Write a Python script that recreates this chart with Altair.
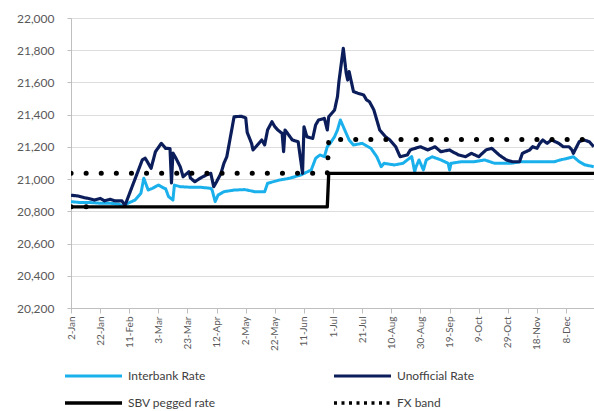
import altair as alt
import pandas as pd

# Vietnam dong per US dollar, 2013
SERIES = ["Interbank Rate", "Unofficial Rate", "SBV pegged rate", "FX band"]
COLORS = ["#1AB0EC", "#0B1E5B", "#000000", "#000000"]
DASHES = [[1, 0], [1, 0], [1, 0], [3, 4.5]]
WIDTHS = [3, 3.5, 2.5, 4]

interbank_dates = [
    "2013-01-02", "2013-01-08", "2013-01-15", "2013-01-22", "2013-01-29", "2013-02-04",
    "2013-02-07", "2013-02-10", "2013-02-15", "2013-02-19", "2013-02-21", "2013-02-24",
    "2013-02-27", "2013-03-03", "2013-03-07", "2013-03-08", "2013-03-10", "2013-03-13",
    "2013-03-14", "2013-03-18", "2013-03-24", "2013-03-31", "2013-04-08", "2013-04-09",
    "2013-04-11", "2013-04-13", "2013-04-17", "2013-04-24", "2013-05-01", "2013-05-03",
    "2013-05-08", "2013-05-15", "2013-05-17", "2013-05-25", "2013-06-01", "2013-06-09",
    "2013-06-16", "2013-06-19", "2013-06-22", "2013-06-25", "2013-06-27", "2013-06-29",
    "2013-07-02", "2013-07-04", "2013-07-06", "2013-07-10", "2013-07-12", "2013-07-15",
    "2013-07-21", "2013-07-27", "2013-07-31", "2013-08-03", "2013-08-05", "2013-08-12",
    "2013-08-18", "2013-08-21", "2013-08-24", "2013-08-26", "2013-08-27", "2013-08-29",
    "2013-09-01", "2013-09-03", "2013-09-07", "2013-09-13", "2013-09-18", "2013-09-19",
    "2013-09-20", "2013-09-27", "2013-10-06", "2013-10-13", "2013-10-20", "2013-10-31",
    "2013-11-07", "2013-11-21", "2013-11-30", "2013-12-04", "2013-12-09", "2013-12-13",
    "2013-12-17", "2013-12-21", "2013-12-27",
]
interbank_values = [
    20860, 20855, 20855, 20850, 20850, 20844,
    20829, 20850, 20870, 20912, 21005, 20932,
    20943, 20963, 20943, 20940, 20891, 20870,
    20963, 20953, 20950, 20950, 20943, 20930,
    20860, 20901, 20922, 20932, 20935, 20932,
    20922, 20922, 20974, 20994, 21005, 21026,
    21057, 21129, 21150, 21139, 21201, 21222,
    21263, 21305, 21367, 21284, 21243, 21212,
    21222, 21191, 21139, 21077, 21098, 21088,
    21098, 21119, 21140, 21046, 21077, 21119,
    21057, 21119, 21139, 21119, 21098, 21057,
    21098, 21108, 21108, 21119, 21098, 21098,
    21108, 21108, 21108, 21119, 21129, 21139,
    21108, 21088, 21077,
]

unofficial_dates = [
    "2013-01-02", "2013-01-07", "2013-01-11", "2013-01-14", "2013-01-18", "2013-01-22",
    "2013-01-25", "2013-01-29", "2013-02-01", "2013-02-06", "2013-02-08", "2013-02-20",
    "2013-02-22", "2013-02-26", "2013-03-01", "2013-03-05", "2013-03-08", "2013-03-11",
    "2013-03-12", "2013-03-13", "2013-03-15", "2013-03-18", "2013-03-20", "2013-03-24",
    "2013-03-25", "2013-03-28", "2013-04-01", "2013-04-05", "2013-04-08", "2013-04-10",
    "2013-04-12", "2013-04-15", "2013-04-17", "2013-04-19", "2013-04-24", "2013-04-29",
    "2013-05-02", "2013-05-03", "2013-05-06", "2013-05-07", "2013-05-09", "2013-05-13",
    "2013-05-15", "2013-05-17", "2013-05-20", "2013-05-22", "2013-05-24", "2013-05-27",
    "2013-05-28", "2013-05-29", "2013-06-03", "2013-06-07", "2013-06-10", "2013-06-11",
    "2013-06-13", "2013-06-17", "2013-06-19", "2013-06-21", "2013-06-25", "2013-06-27",
    "2013-06-28", "2013-07-02", "2013-07-04", "2013-07-05", "2013-07-08", "2013-07-10",
    "2013-07-11", "2013-07-12", "2013-07-15", "2013-07-18", "2013-07-22", "2013-07-24",
    "2013-07-26", "2013-07-29", "2013-07-31", "2013-08-02", "2013-08-06", "2013-08-09",
    "2013-08-13", "2013-08-16", "2013-08-21", "2013-08-23", "2013-08-26", "2013-08-30",
    "2013-09-04", "2013-09-09", "2013-09-13", "2013-09-19", "2013-09-25", "2013-09-30",
    "2013-10-04", "2013-10-09", "2013-10-14", "2013-10-18", "2013-10-23", "2013-10-28",
    "2013-11-01", "2013-11-06", "2013-11-08", "2013-11-13", "2013-11-15", "2013-11-18",
    "2013-11-20", "2013-11-22", "2013-11-25", "2013-11-28", "2013-12-03", "2013-12-06",
    "2013-12-10", "2013-12-12", "2013-12-13", "2013-12-17", "2013-12-20", "2013-12-24",
    "2013-12-27",
]
unofficial_values = [
    20900, 20895, 20885, 20880, 20870, 20880,
    20865, 20875, 20865, 20865, 20835, 21120,
    21130, 21067, 21170, 21222, 21191, 21190,
    20976, 21162, 21131, 21077, 21015, 21046,
    21007, 20984, 21007, 21026, 21036, 20953,
    20984, 21036, 21098, 21139, 21387, 21390,
    21380, 21290, 21222, 21181, 21201, 21243,
    21212, 21305, 21356, 21325, 21305, 21284,
    21170, 21305, 21243, 21232, 21036, 21325,
    21263, 21253, 21336, 21367, 21377, 21305,
    21387, 21429, 21512, 21605, 21812, 21657,
    21615, 21667, 21543, 21533, 21522, 21491,
    21480, 21429, 21367, 21305, 21263, 21243,
    21201, 21139, 21150, 21181, 21190, 21201,
    21181, 21201, 21170, 21181, 21150, 21139,
    21160, 21139, 21181, 21191, 21150, 21119,
    21108, 21108, 21160, 21181, 21201, 21191,
    21222, 21243, 21222, 21243, 21222, 21201,
    21201, 21181, 21160, 21232, 21243, 21232,
    21201,
]

sbv_dates = ["2013-01-02", "2013-06-27", "2013-06-28", "2013-12-31"]
sbv_values = [20828, 20828, 21036, 21036]

fx_upper_dates = ["2013-01-02", "2013-06-27", "2013-06-28", "2013-12-31"]
fx_upper_values = [21036, 21036, 21246, 21246]
fx_lower_dates = ["2013-01-02", "2013-01-22"]
fx_lower_values = [20828, 20828]

tick_dates = [
    "2013-01-02", "2013-01-22", "2013-02-11", "2013-03-03", "2013-03-23", "2013-04-12",
    "2013-05-02", "2013-05-22", "2013-06-11", "2013-07-01", "2013-07-21", "2013-08-10",
    "2013-08-30", "2013-09-19", "2013-10-09", "2013-10-29", "2013-11-18", "2013-12-08",
]
y_ticks = list(range(20200, 22001, 200))


def ms(s):
    return int(pd.Timestamp(s, tz="UTC").value // 10**6)


def frame(name, dates, values, part="a"):
    return pd.DataFrame({"date": dates, "value": values, "series": name, "part": part})


rates = pd.concat([
    frame(SERIES[0], interbank_dates, interbank_values),
    frame(SERIES[1], unofficial_dates, unofficial_values),
    frame(SERIES[2], sbv_dates, sbv_values),
], ignore_index=True)

band = pd.concat([
    frame(SERIES[3], fx_upper_dates, fx_upper_values, "upper"),
    frame(SERIES[3], fx_lower_dates, fx_lower_values, "lower"),
], ignore_index=True)

FONT = "Lato"

x_enc = alt.X(
    "date:T",
    title=None,
    scale=alt.Scale(type="utc", domain=[ms("2013-01-02"), ms("2013-12-27T04:00:00")]),
    axis=alt.Axis(
        values=[ms(d) for d in tick_dates], format="%-d-%b", labelAngle=270,
        labelAlign="right", labelBaseline="middle", labelPadding=3, tickSize=5,
        grid=False, labelFontSize=10, labelOverlap=False,
    ),
)
y_enc = alt.Y(
    "value:Q",
    title=None,
    scale=alt.Scale(domain=[20200, 22000], nice=False, zero=False),
    axis=alt.Axis(values=y_ticks, format=",.0f", tickSize=4, labelPadding=13,
                  labelFontSize=12, grid=True),
)

legend = alt.Legend(
    title=None, orient="none", direction="horizontal", legendX=-8, legendY=351,
    columns=2, columnPadding=116, rowPadding=13, clipHeight=14, symbolType="stroke",
    symbolSize=3249, symbolStrokeWidth=4, labelOffset=4, labelFontSize=12,
    labelFont=FONT, labelColor="#404040", padding=0,
)

lines = alt.Chart(rates).mark_line(clip=True, strokeJoin="round").encode(
    x=x_enc,
    y=y_enc,
    color=alt.Color("series:N", scale=alt.Scale(domain=SERIES, range=COLORS), legend=legend),
    strokeDash=alt.StrokeDash("series:N", scale=alt.Scale(domain=SERIES, range=DASHES), legend=legend),
    strokeWidth=alt.StrokeWidth("series:N", scale=alt.Scale(domain=SERIES, range=WIDTHS), legend=None),
    detail="part:N",
)

fx_line = alt.Chart(band).mark_line(
    clip=True, color="#000000", strokeWidth=5, strokeDash=[0.1, 15], strokeCap="round"
).encode(x=x_enc, y=y_enc, detail="part:N")

chart = (
    alt.layer(lines, fx_line)
    .properties(
        width=523, height=290,
        autosize=alt.AutoSizeParams(type="none"),
        padding={"left": 71, "top": 18, "right": 0, "bottom": 103},
        background="#ffffff",
    )
    .configure_view(stroke=None)
    .configure_axis(
        labelFont=FONT, labelColor="#595959", domainColor="#BFBFBF", tickColor="#BFBFBF",
        gridColor="#DDDDDD", gridWidth=1, domainWidth=1,
    )
)

chart.save("out.html", embed_options={"renderer": "svg", "actions": False})
